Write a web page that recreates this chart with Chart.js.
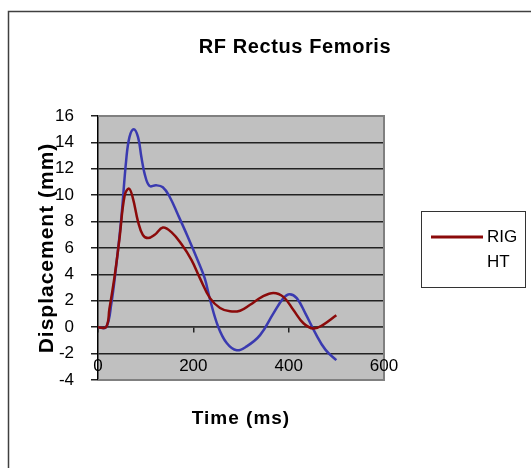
<!DOCTYPE html>
<html>
<head>
<meta charset="utf-8">
<script src="https://cdn.jsdelivr.net/npm/chart.js@4/dist/chart.umd.min.js"></script>
<style>
  html, body { margin: 0; padding: 0; background: #fff; }
  #wrap { width: 531px; height: 468px; position: relative; }
</style>
</head>
<body>
<div id="wrap"><canvas id="rf-chart"></canvas></div>
<script>
// values (time in ms, displacement in mm)
const rightTime = [0, 17, 24, 35, 45, 56, 65, 73, 84, 94, 105, 119, 136, 154, 175, 196, 214, 235, 256, 277, 298, 319, 344, 368, 389, 410, 431, 452, 473, 500];
const rightDisp = [0, 0, 1.4, 3.9, 6.7, 10.0, 10.5, 9.8, 8.0, 7.0, 6.75, 7.0, 7.55, 7.2, 6.3, 5.1, 3.7, 2.2, 1.45, 1.2, 1.25, 1.7, 2.3, 2.6, 2.3, 1.3, 0.3, -0.1, 0.2, 0.9];

const leftTime = [0, 17, 28, 38, 49, 59, 66, 75, 84, 91, 98, 108, 122, 136, 150, 168, 189, 210, 224, 235, 252, 270, 291, 312, 340, 368, 389, 402, 417, 435, 456, 477, 500];
const leftDisp = [0, 0, 1.8, 4.6, 8.3, 12.6, 14.4, 15.0, 14.4, 12.9, 11.6, 10.7, 10.75, 10.6, 9.9, 8.5, 6.8, 5.0, 3.7, 2.1, 0.05, -1.2, -1.75, -1.45, -0.6, 1.05, 2.2, 2.5, 2.2, 1.05, -0.45, -1.7, -2.5];

const xTicks = [0, 200, 400, 600];
const yTicks = [-4, -2, 0, 2, 4, 6, 8, 10, 12, 14, 16];

const toPoints = (xs, ys) => xs.map((x, i) => ({ x: x, y: ys[i] }));

Chart.defaults.font.family = "'Liberation Sans', Arial, sans-serif";
Chart.defaults.font.size = 17;
Chart.defaults.color = '#000';

// plot background, frame, title and the boxed legend (Excel look)
const excelFrame = {
    id: 'excelFrame',
    beforeDraw(chart) {
        const { ctx, chartArea: a } = chart;
        ctx.save();
        ctx.fillStyle = '#fff';
        ctx.fillRect(0, 0, chart.width, chart.height);
        ctx.fillStyle = '#c0c0c0';
        ctx.fillRect(a.left, a.top, a.right - a.left, a.bottom - a.top);
        ctx.restore();
        // axis titles are drawn with the grid layer -> slightly spaced like the original
        ctx.letterSpacing = '1px';
    },
    beforeDatasetsDraw(chart) {
        chart.ctx.letterSpacing = '0px';
    },
    afterDatasetsDraw(chart) {
        const { ctx, chartArea: a } = chart;
        ctx.save();
        ctx.strokeStyle = '#808080';
        ctx.lineWidth = 2;
        ctx.beginPath();
        ctx.moveTo(a.left, a.top);
        ctx.lineTo(a.right, a.top);
        ctx.lineTo(a.right, a.bottom);
        ctx.lineTo(a.left, a.bottom);
        ctx.stroke();
        ctx.restore();
    },
    afterDraw(chart) {
        const ctx = chart.ctx;
        ctx.save();
        // outer chart border
        ctx.strokeStyle = '#404040';
        ctx.lineWidth = 1.5;
        ctx.beginPath();
        ctx.moveTo(8.5, chart.height);
        ctx.lineTo(8.5, 11.5);
        ctx.lineTo(chart.width, 11.5);
        ctx.stroke();

        // title
        ctx.fillStyle = '#000';
        ctx.font = "bold 20px 'Liberation Sans', Arial, sans-serif";
        ctx.letterSpacing = '0.6px';
        ctx.textAlign = 'center';
        ctx.textBaseline = 'middle';
        ctx.fillText('RF Rectus Femoris', 295, 47);
        ctx.letterSpacing = '0px';

        // legend
        const ds = chart.data.datasets[0];
        const box = { x: 421, y: 211, w: 104, h: 76 };
        ctx.strokeStyle = '#333';
        ctx.lineWidth = 1;
        ctx.strokeRect(box.x + 0.5, box.y + 0.5, box.w, box.h);
        ctx.strokeStyle = ds.borderColor;
        ctx.lineWidth = 3;
        ctx.beginPath();
        ctx.moveTo(431, 237);
        ctx.lineTo(483, 237);
        ctx.stroke();

        ctx.font = "17px 'Liberation Sans', Arial, sans-serif";
        ctx.textAlign = 'left';
        const textX = 487;
        const maxW = box.x + box.w - textX - 2;
        let lines = [''];
        for (const ch of ds.label) {
            const cur = lines[lines.length - 1];
            if (ctx.measureText(cur + ch).width > maxW && cur.length) lines.push(ch);
            else lines[lines.length - 1] = cur + ch;
        }
        lines.forEach((t, i) => ctx.fillText(t, textX, 237 + i * 25));
        ctx.restore();
    }
};

new Chart(document.getElementById('rf-chart'), {
    type: 'line',
    data: {
        datasets: [{
            label: 'RIGHT',
            data: toPoints(rightTime, rightDisp),
            borderColor: '#8b0a0a',
            borderWidth: 2.5,
            pointRadius: 0,
            tension: 0.4,
            fill: false
        }, {
            label: 'LEFT',
            data: toPoints(leftTime, leftDisp),
            borderColor: '#3a3ab0',
            borderWidth: 2.5,
            pointRadius: 0,
            tension: 0.4,
            fill: false
        }]
    },
    options: {
        responsive: true,
        maintainAspectRatio: false,
        animation: false,
        layout: {
            padding: { left: 8, top: 116, right: 147, bottom: 88 }
        },
        plugins: {
            legend: { display: false },
            title: { display: false },
            tooltip: { enabled: false }
        },
        scales: {
            x: {
                type: 'linear',
                position: { y: 0 },
                min: 0,
                max: 600,
                afterBuildTicks: (scale) => { scale.ticks = xTicks.map(v => ({ value: v })); },
                ticks: { padding: 24, font: { size: 17 }, z: 1 },
                grid: { drawOnChartArea: false, tickLength: 5, color: '#222', lineWidth: 1.5 },
                border: { color: '#333', width: 1.5 },
                title: {
                    display: true,
                    text: 'Time (ms)',
                    font: { size: 19, weight: 'bold' },
                    padding: { top: 7, bottom: 0 }
                }
            },
            y: {
                min: -4,
                max: 16,
                afterBuildTicks: (scale) => { scale.ticks = yTicks.map(v => ({ value: v })); },
                ticks: { padding: 17, font: { size: 17 }, z: 1 },
                grid: {
                    color: (c) => (c.tick && (c.tick.value === 16 || c.tick.value === -4)) ? 'rgba(0,0,0,0)' : '#222',
                    tickColor: '#222',
                    tickLength: 7,
                    lineWidth: 1.5
                },
                border: { color: '#000', width: 1.5 },
                title: {
                    display: true,
                    text: 'Displacement (mm)',
                    font: { size: 21, weight: 'bold' },
                    padding: { top: 27, bottom: 0 }
                },
                afterFit: (scale) => { scale.width = 90; }
            }
        }
    },
    plugins: [excelFrame]
});
</script>
</body>
</html>
